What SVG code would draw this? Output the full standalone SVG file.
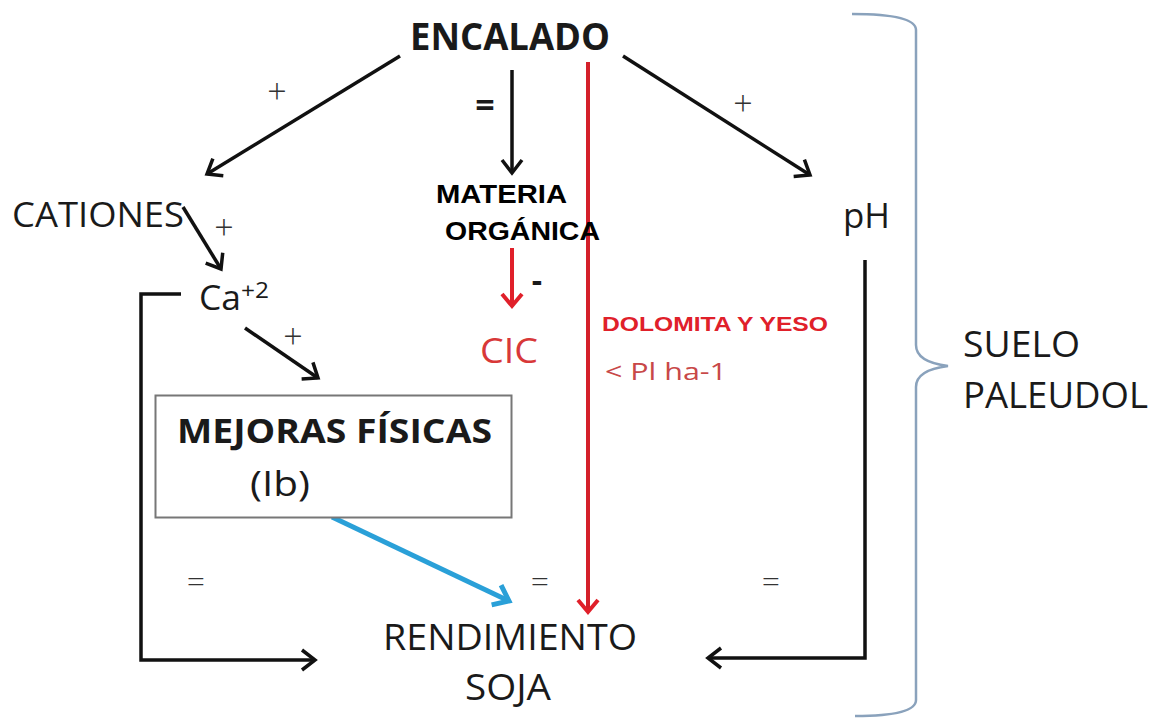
<svg xmlns="http://www.w3.org/2000/svg" width="1154" height="720" viewBox="0 0 1154 720">
<defs>
<style>
.t{font-family:"Open Sans","Liberation Sans",sans-serif;fill:#1a1a1a}
.b{font-weight:bold}
.a{font-family:"Liberation Sans",Arial,sans-serif;font-weight:bold}
.ln{fill:none;stroke:#111;stroke-width:3.5}
.s{font-family:"Open Sans","Liberation Sans",sans-serif;fill:#333;font-weight:300}
</style>
<marker id="ahr" markerUnits="userSpaceOnUse" orient="auto" refX="0" refY="0" overflow="visible">
<path d="M-12,-10 L0,0 L-12,10" fill="none" stroke="#e0202a" stroke-width="4"/>
</marker>
<marker id="ahb" markerUnits="userSpaceOnUse" orient="auto" refX="0" refY="0" overflow="visible">
<path d="M-14,-11 L0,0 L-14,11" fill="none" stroke="#2aa0d8" stroke-width="5"/>
</marker>
<marker id="ahk" markerUnits="userSpaceOnUse" orient="auto" refX="0" refY="0" overflow="visible">
<path d="M-13,-10 L0,0 L-13,10" fill="none" stroke="#111" stroke-width="3.5"/>
</marker>
</defs>
<rect width="1154" height="720" fill="#fff"/>

<g id="connectors">
<line class="ln" x1="400" y1="56" x2="207" y2="174" marker-end="url(#ahk)"/>
<line class="ln" x1="512" y1="70" x2="512" y2="173" marker-end="url(#ahk)"/>
<line class="ln" x1="623" y1="56" x2="810" y2="175" marker-end="url(#ahk)"/>
<line class="ln" x1="183" y1="207" x2="221" y2="269" marker-end="url(#ahk)"/>
<line class="ln" x1="245" y1="328" x2="318" y2="378" marker-end="url(#ahk)"/>
<polyline class="ln" points="181,294 141,294 141,660 315,660" marker-end="url(#ahk)"/>
<polyline class="ln" points="865,260 865,658 708,658" marker-end="url(#ahk)"/>
<line x1="512" y1="248" x2="512" y2="306" stroke="#e0202a" stroke-width="4" marker-end="url(#ahr)"/>
<line x1="588" y1="62" x2="588" y2="612" stroke="#d4202a" stroke-width="4" marker-end="url(#ahr)"/>
<line x1="332" y1="517" x2="509" y2="601" stroke="#2aa0d8" stroke-width="5" marker-end="url(#ahb)"/>
<text class="s" x="277" y="104" font-size="34" text-anchor="middle">+</text>
<text class="t b" x="485" y="117" font-size="34" text-anchor="middle">=</text>
<text class="s" x="743" y="116" font-size="34" text-anchor="middle">+</text>
<text class="s" x="224" y="240" font-size="34" text-anchor="middle">+</text>
<text class="s" x="293" y="349" font-size="34" text-anchor="middle">+</text>
<text class="t b" x="537" y="292" font-size="32" text-anchor="middle">-</text>
<text class="s" x="196" y="592" font-size="32" text-anchor="middle">=</text>
<text class="s" x="540" y="592" font-size="32" text-anchor="middle">=</text>
<text class="s" x="771" y="592" font-size="32" text-anchor="middle">=</text>
</g>

<g id="encalado"><text class="t b" x="410" y="50" font-size="37" textLength="200" lengthAdjust="spacingAndGlyphs">ENCALADO</text></g>
<g id="cationes"><text class="t" x="12" y="227" font-size="35" textLength="172" lengthAdjust="spacingAndGlyphs">CATIONES</text></g>
<g id="ph"><text class="t" x="843" y="228" font-size="35" textLength="47" lengthAdjust="spacingAndGlyphs">pH</text></g>
<g id="ca"><text class="t" x="199" y="310" font-size="34" textLength="42" lengthAdjust="spacingAndGlyphs">Ca</text><text class="t" x="241" y="298" font-size="22" textLength="28" lengthAdjust="spacingAndGlyphs">+2</text></g>
<g id="materia">
<text class="a" x="436" y="203" font-size="26" textLength="131" lengthAdjust="spacingAndGlyphs">MATERIA</text>
<text class="a" x="445" y="240" font-size="26" textLength="155" lengthAdjust="spacingAndGlyphs">ORGÁNICA</text>
</g>
<g id="cic"><text class="t" x="480" y="363" font-size="35" style="fill:#d83838" textLength="58" lengthAdjust="spacingAndGlyphs">CIC</text></g>
<g id="dolomita">
<text class="a" x="602" y="331" font-size="19.5" style="fill:#e0202a" textLength="226" lengthAdjust="spacingAndGlyphs">DOLOMITA Y YESO</text>
<text class="t" x="605" y="380" font-size="24" style="fill:#c84848" textLength="122" lengthAdjust="spacingAndGlyphs">&lt; Pl ha-1</text>
</g>
<g id="mejoras">
<rect x="155.5" y="395.5" width="356" height="122" fill="#fff" stroke="#777" stroke-width="2"/>
<text class="t b" x="177" y="443" font-size="34" textLength="315" lengthAdjust="spacingAndGlyphs">MEJORAS FÍSICAS</text>
<text class="t" x="250" y="496" font-size="34" textLength="60" lengthAdjust="spacingAndGlyphs">(Ib)</text>
</g>
<g id="rendimiento">
<text class="t" x="383" y="650" font-size="36" textLength="254" lengthAdjust="spacingAndGlyphs">RENDIMIENTO</text>
<text class="t" x="465" y="700" font-size="36" textLength="86" lengthAdjust="spacingAndGlyphs">SOJA</text>
</g>
<g id="suelo">
<path d="M852,14 Q916,14 916,30 L916,345 Q916,362 948,366 Q916,370 916,387 L916,700 Q916,716 855,716" fill="none" stroke="#8aa2bc" stroke-width="2.5"/>
<text class="t" x="963" y="357" font-size="36" textLength="117" lengthAdjust="spacingAndGlyphs">SUELO</text>
<text class="t" x="963" y="408" font-size="36" textLength="185" lengthAdjust="spacingAndGlyphs">PALEUDOL</text>
</g>
</svg>
